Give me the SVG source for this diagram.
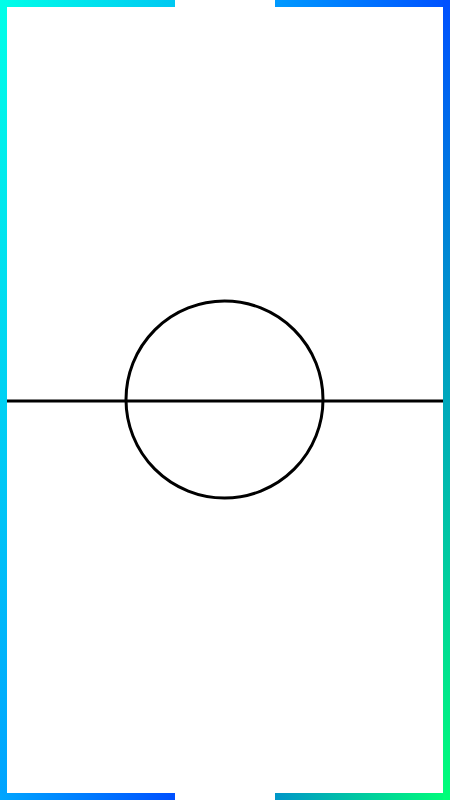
<svg xmlns="http://www.w3.org/2000/svg" width="450" height="800" viewBox="0 0 450 800">
  <defs>
    <linearGradient id="gTL" gradientUnits="userSpaceOnUse" x1="0" y1="0" x2="175" y2="0">
      <stop offset="0" stop-color="#00ffe8"/>
      <stop offset="1" stop-color="#00c8f2"/>
    </linearGradient>
    <linearGradient id="gL" gradientUnits="userSpaceOnUse" x1="0" y1="0" x2="0" y2="800">
      <stop offset="0" stop-color="#00ffe8"/>
      <stop offset="1" stop-color="#00a2ff"/>
    </linearGradient>
    <linearGradient id="gBL" gradientUnits="userSpaceOnUse" x1="0" y1="0" x2="175" y2="0">
      <stop offset="0" stop-color="#00a6ff"/>
      <stop offset="1" stop-color="#0050ff"/>
    </linearGradient>
    <linearGradient id="gTR" gradientUnits="userSpaceOnUse" x1="275" y1="0" x2="450" y2="0">
      <stop offset="0" stop-color="#009aff"/>
      <stop offset="1" stop-color="#0050ff"/>
    </linearGradient>
    <linearGradient id="gR" gradientUnits="userSpaceOnUse" x1="0" y1="0" x2="0" y2="800">
      <stop offset="0" stop-color="#0050ff"/>
      <stop offset="1" stop-color="#00ff78"/>
    </linearGradient>
    <linearGradient id="gBR" gradientUnits="userSpaceOnUse" x1="275" y1="0" x2="450" y2="0">
      <stop offset="0" stop-color="#0096c8"/>
      <stop offset="1" stop-color="#00ff78"/>
    </linearGradient>
    <style>
      .line { stroke: #000; stroke-width: 3; fill: none; }
    </style>
  </defs>
  <rect width="450" height="800" fill="#fff"/>
  <g id="border">
    <rect x="0" y="7" width="7" height="793" fill="url(#gL)"/>
    <rect x="0" y="0" width="175" height="7" fill="url(#gTL)"/>
    <rect x="0" y="793" width="175" height="7" fill="url(#gBL)"/>
    <rect x="443" y="0" width="7" height="800" fill="url(#gR)"/>
    <rect x="275" y="0" width="168" height="7" fill="url(#gTR)"/>
    <rect x="275" y="793" width="168" height="7" fill="url(#gBR)"/>
  </g>
  <g id="center-line">
    <line class="line" x1="7" y1="401" x2="443" y2="401"/>
  </g>
  <g id="center-circle">
    <circle class="line" cx="224.5" cy="399.5" r="98.5"/>
  </g>
</svg>
